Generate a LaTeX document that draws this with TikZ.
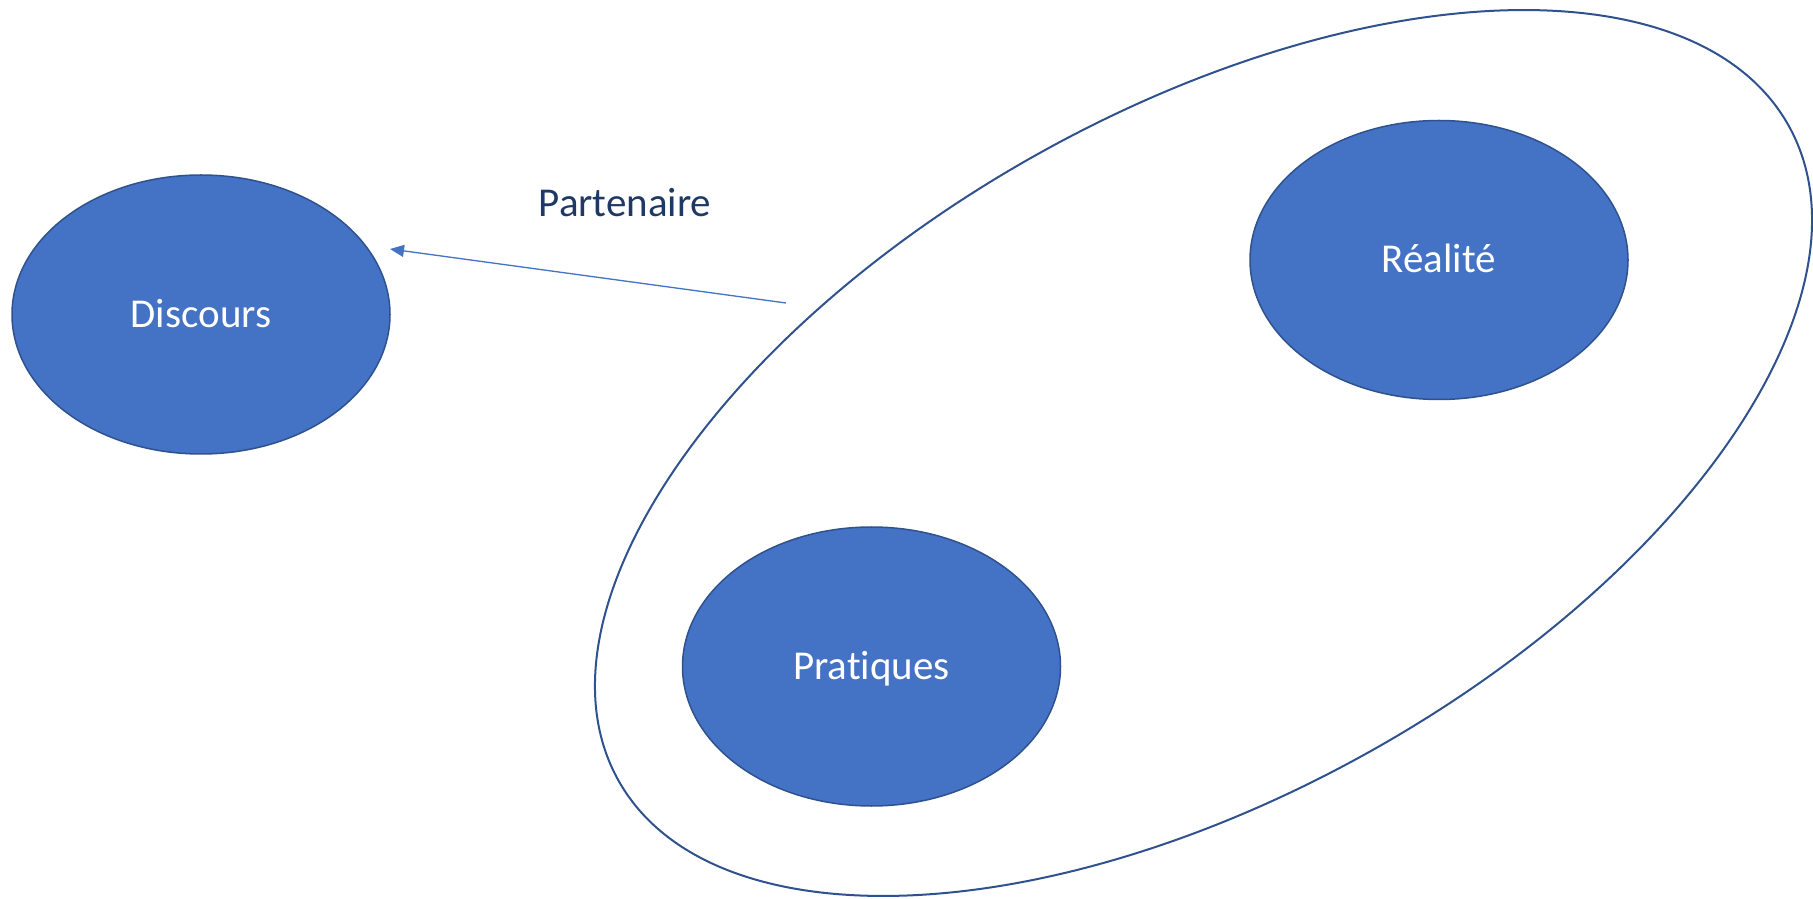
\documentclass[tikz,border=0pt]{standalone}
\usepackage{fontspec}
\setmainfont{Carlito}[Ligatures={NoCommon}]
\usetikzlibrary{shapes.geometric,arrows.meta}
\definecolor{fillblue}{HTML}{4472C4}
\definecolor{edgeblue}{HTML}{2F528F}
\definecolor{labelblue}{HTML}{1F3864}
\tikzset{
  blob/.style={ellipse, draw=edgeblue, fill=fillblue, line width=1.5pt, inner sep=0pt,
    minimum width=378pt, minimum height=279pt, text=white,
    font=\fontsize{41}{49}\selectfont, text height=25.9pt, text depth=0pt},
  group/.style={ellipse, draw=edgeblue, line width=2pt, inner sep=0pt},
  link/.style={draw=fillblue, line width=1.3pt, -{Triangle[length=14pt,width=12pt]}},
  lbltext/.style={text=labelblue, font=\fontsize{41}{49}\selectfont, inner sep=0pt}
}
\begin{document}
\begin{tikzpicture}[x=1pt,y=1pt]
\useasboundingbox (0,0) rectangle (1813,898);
\node[group, minimum width=1341pt, minimum height=683.6pt, rotate=29.24] (grp) at (1203.5,445) {};
\node[blob] (disc) at (201,583.5) {Discours};
\node[blob] (real) at (1439,638) {Réalité};
\node[blob] (prat) at (871.5,231.5) {Pratiques};
\coordinate (src) at (786,595);
\path (disc.center) ++(189,65.5) coordinate (tip);
\draw[link] (src) -- (tip);
\node[lbltext, anchor=base] (lbl) at (625,681) {Partenaire};
\end{tikzpicture}
\end{document}
